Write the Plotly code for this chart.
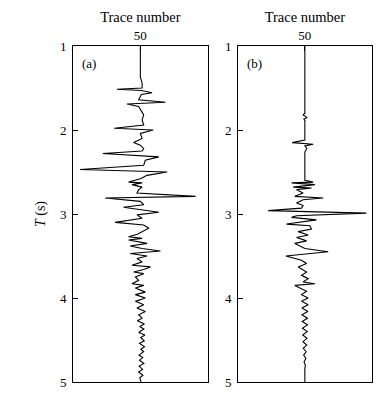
import plotly.graph_objects as go

# ---- data (time in s, amplitude in trace-number units around trace 50) ----
trace_center = 50
t_a = [1.00, 1.37, 1.44, 1.50, 1.515, 1.53, 1.556, 1.577, 1.60, 1.64, 1.67, 1.69, 1.72, 1.78, 1.82, 1.88, 1.94,
       1.98, 2.00, 2.04, 2.10, 2.15, 2.18, 2.22, 2.25, 2.28, 2.32, 2.36, 2.42, 2.47, 2.50, 2.54, 2.58, 2.62,
       2.63, 2.65, 2.68, 2.71, 2.75, 2.79, 2.81, 2.85, 2.89, 2.92, 2.95, 2.98, 3.01, 3.05, 3.10, 3.13, 3.17,
       3.21, 3.24, 3.27, 3.29, 3.31, 3.35, 3.38, 3.41, 3.44, 3.47, 3.50, 3.53, 3.57, 3.61, 3.63, 3.66, 3.69,
       3.71, 3.75, 3.79, 3.83, 3.85, 3.88, 3.93, 3.96, 4.00, 4.04, 4.08, 4.12, 4.16, 4.20, 4.24,
       4.27, 4.31, 4.34, 4.37, 4.41, 4.44, 4.47, 4.51, 4.54, 4.58, 4.61, 4.64, 4.68, 4.71, 4.74, 4.78,
       4.81, 4.85, 4.88, 4.92, 4.95, 5.00]
amp_a = [0, 0, 1.3, 1.3, -17.4, 0.7, 8.7, 0.7, 0, -1.3, 18.7, -9.9, -1.3, 1.3, 2.5, 1.3, 2.5,
         -19.4, 9.5, 0, 1.3, -5.0, 0, 2.5, 1.3, -27.8, 13.7, 3.7, 2.5, -44.8, 19.9, 5.0, 0, -8.7,
         1.3, -6.2, 1.3, -1.3, -2.5, 41.0, -26.1, 0, 2.5, -12.5, 1.3, 13.7, -2.5, 1.3, -18.7, 2.5, 6.2,
         1.3, -2.2, -8.7, 1.3, -8.7, 5.0, -7.5, 1.3, 14.9, -7.5, 5.0, -2.5, 1.3, -6.2, 7.5, 2.5, -5.0,
         2.5, -3.7, -1.3, -6.2, 2.5, -3.7, 3.7, -3.7, 3.7, -3.7, 2.5, -2.5, 3.7, -1.3, 1.3,
         -2.2, 3.0, -0.5, 2.6, -1.2, 3.4, 0.2, 2.9, -0.6, 3.1, 0.4, 2.4, -1.0, 1.8, -0.6, 2.6,
         -0.9, 1.6, -1.3, 1.9, -0.4, 0.5]

t_b = [1.00, 1.80, 1.82, 1.85, 1.87, 1.89, 2.12, 2.15, 2.17, 2.19, 2.22, 2.26, 2.60, 2.62, 2.63, 2.65,
       2.68, 2.69, 2.71, 2.75, 2.79, 2.81, 2.83, 2.87, 2.90, 2.93, 2.96, 2.99, 3.02, 3.04, 3.07, 3.10,
       3.12, 3.14, 3.18, 3.21, 3.25, 3.28, 3.32, 3.35, 3.41, 3.45, 3.50, 3.55, 3.59, 3.63, 3.69, 3.73,
       3.77, 3.81, 3.83, 3.85, 3.89, 3.92, 3.96, 4.00, 4.04, 4.08, 4.12, 4.16, 4.20, 4.24, 4.28, 4.32,
       4.36, 4.40, 4.44, 4.48, 4.52, 4.56, 4.60, 4.64, 4.68, 4.72, 4.76, 4.80, 4.84, 5.00]
amp_b = [0, 0, -1.3, 1.7, -0.7, 0, 0, -9.5, 6.2, 0, 1.5, 0, 0, 6.2, -9.9, 7.5,
         -8.7, 5.0, -6.2, -1.3, -7.5, 13.7, -1.3, -6.2, -1.3, -2.5, -27.4, 46.0, -6.2, -9.9, 8.7, -7.5,
         -13.7, 3.7, 5.0, -5.0, 2.5, -6.2, 1.3, -7.5, 0, 17.4, -14.2, -2.5, 1.3, -5.0, 1.3, -2.5,
         2.5, -1.3, 7.5, -7.5, -2.5, 1.3, -2.5, 2.5, -2.5, 2.5, -2.2, 2.2, -2.2, 2.0, -2.0, 2.0,
         -1.8, 1.8, -1.6, 1.6, -1.4, 1.4, -1.2, 1.0, -0.9, 0.8, -0.6, 0.4, 0, 0]

y_ticks = [1, 2, 3, 4, 5]
x_ticks = [50]
panel_labels = ["(a)", "(b)"]

FONT = "Liberation Serif"
W, H = 386, 399
OFF = 8  # page body margin offset in px

fig = go.Figure()
fig.add_trace(go.Scatter(x=[trace_center + a for a in amp_a], y=t_a, mode="lines",
                         line=dict(color="black", width=1.1), xaxis="x", yaxis="y", showlegend=False))
fig.add_trace(go.Scatter(x=[trace_center + a for a in amp_b], y=t_b, mode="lines",
                         line=dict(color="black", width=1.1), xaxis="x2", yaxis="y2", showlegend=False))

ydom = [1 - (382 - OFF) / H, 1 - (46 - OFF) / H]
xdom_a = [(73 - OFF) / W, (207.7 - OFF) / W]
xdom_b = [(238 - OFF) / W, (371.7 - OFF) / W]

common_x = dict(range=[0, 100], side="top", tickvals=x_ticks, ticks="inside", ticklen=5,
                tickcolor="black", showline=True, linecolor="black", linewidth=1, mirror=True,
                showgrid=False, zeroline=False, automargin=False,
                tickfont=dict(family=FONT, size=13, color="black"),
                title=dict(text="Trace number", font=dict(family=FONT, size=14.5, color="black"), standoff=1))
common_y = dict(range=[5, 1], tickvals=y_ticks, ticks="inside", ticklen=5, tickcolor="black",
                showline=True, linecolor="black", linewidth=1, mirror=True, showgrid=False,
                zeroline=False, automargin=False, ticklabelstandoff=3,
                tickfont=dict(family=FONT, size=13, color="black"))

fig.update_layout(
    width=W, height=H,
    margin=dict(l=0, r=0, t=0, b=0),
    paper_bgcolor="white", plot_bgcolor="white",
    xaxis=dict(domain=xdom_a, anchor="y", **common_x),
    xaxis2=dict(domain=xdom_b, anchor="y2", **common_x),
    yaxis=dict(domain=ydom, anchor="x",
               title=dict(text="<i>T</i> (s)", font=dict(family=FONT, size=14, color="black"), standoff=11),
               **common_y),
    yaxis2=dict(domain=ydom, anchor="x2", **common_y),
    annotations=[
        dict(text=panel_labels[0], xref="x domain", yref="y domain", x=0.05, y=0.975,
             xanchor="left", yanchor="top", showarrow=False,
             font=dict(family=FONT, size=13, color="black")),
        dict(text=panel_labels[1], xref="x2 domain", yref="y2 domain", x=0.05, y=0.975,
             xanchor="left", yanchor="top", showarrow=False,
             font=dict(family=FONT, size=13, color="black")),
    ],
)

fig.write_html("out.html")
